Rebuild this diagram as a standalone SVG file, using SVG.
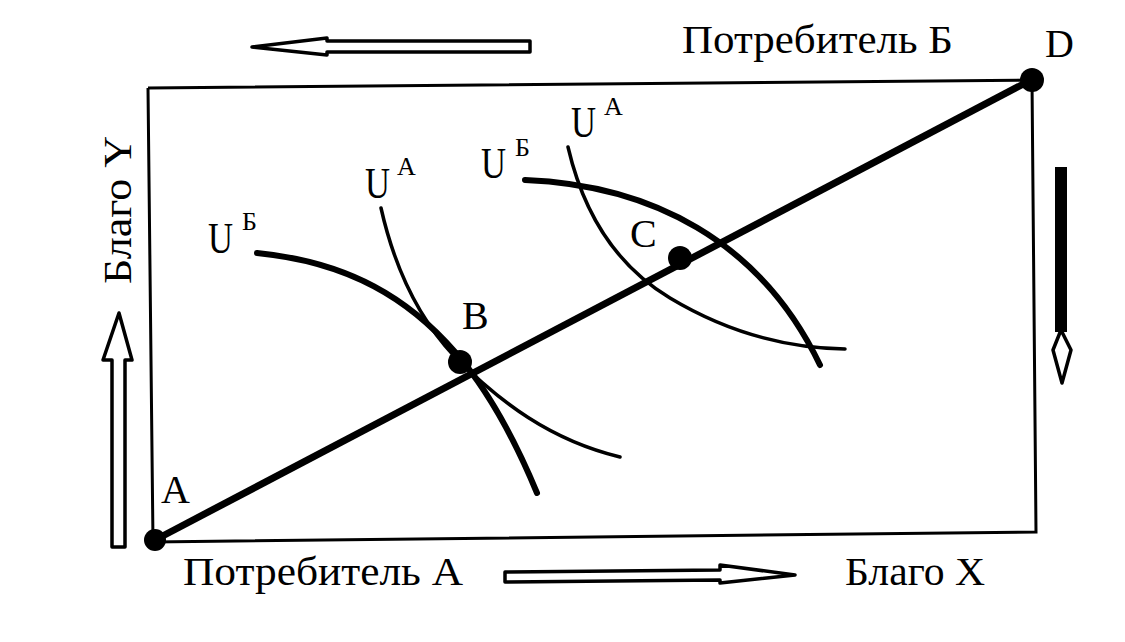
<svg xmlns="http://www.w3.org/2000/svg" width="1125" height="642" viewBox="0 0 1125 642">
<style>
text{font-family:"Liberation Serif","Times New Roman",serif;fill:#000}
.lbl{font-size:40px}
.u{font-size:44px}
.sup{font-size:26px}
.frame{fill:none;stroke:#000;stroke-width:3}
.thick{fill:none;stroke:#000;stroke-width:6;stroke-linecap:round}
.thin{fill:none;stroke:#000;stroke-width:3.5;stroke-linecap:round}
.arr{fill:#fff;stroke:#000;stroke-width:3.5;stroke-linejoin:round}
.dot{fill:#000}
</style>
<rect width="1125" height="642" fill="#fff"/>
<g id="frame">
<polyline class="frame" points="148,88 1032,80 1036,532 153,542 148,88"/>
</g>
<g id="connectors">
<line x1="155" y1="540" x2="1031" y2="80" stroke="#000" stroke-width="7"/>
<path class="thick" d="M257,253 C350,262 410,300 455,352 C490,392 515,440 537,493"/>
<path class="thin" d="M381,208 C395,270 420,320 455,357 C500,402 550,440 620,457"/>
<path class="thick" d="M525,180 C650,185 760,240 820,365"/>
<path class="thin" d="M568,147 C585,220 620,268 670,298 C720,328 780,348 845,349"/>
</g>
<g id="node-A"><circle class="dot" cx="155" cy="540" r="11"/><text class="lbl" x="161" y="503">A</text></g>
<g id="node-B"><circle class="dot" cx="460" cy="362" r="12"/><text class="lbl" x="462" y="329">B</text></g>
<g id="node-C"><circle class="dot" cx="680" cy="258" r="12"/><text class="lbl" x="630" y="247">C</text></g>
<g id="node-D"><circle class="dot" cx="1032" cy="80" r="12"/><text class="lbl" x="1045" y="57">D</text></g>
<g id="label-UB1"><text class="u" x="208" y="253" textLength="25" lengthAdjust="spacingAndGlyphs">U</text><text class="sup" x="242" y="230">Б</text></g>
<g id="label-UA1"><text class="u" x="365" y="198" textLength="25" lengthAdjust="spacingAndGlyphs">U</text><text class="sup" x="397" y="175">A</text></g>
<g id="label-UB2"><text class="u" x="481" y="178" textLength="25" lengthAdjust="spacingAndGlyphs">U</text><text class="sup" x="515" y="156">Б</text></g>
<g id="label-UA2"><text class="u" x="571" y="137" textLength="25" lengthAdjust="spacingAndGlyphs">U</text><text class="sup" x="604" y="115">A</text></g>
<g id="label-consumerB"><text class="lbl" x="682" y="53" textLength="271" lengthAdjust="spacingAndGlyphs">Потребитель Б</text></g>
<g id="label-consumerA"><text class="lbl" x="183" y="585" textLength="280" lengthAdjust="spacingAndGlyphs">Потребитель А</text></g>
<g id="label-goodX"><text class="lbl" x="845" y="585" textLength="140" lengthAdjust="spacingAndGlyphs">Благо X</text></g>
<g id="label-goodY"><text class="lbl" transform="translate(131,210) rotate(-90)" text-anchor="middle" textLength="148" lengthAdjust="spacingAndGlyphs">Благо Y</text></g>
<g id="arrows">
<polygon class="arr" points="252,47 327,38 327,41 530,41 530,52 327,52 327,55"/>
<polygon class="arr" points="505,572 720,570 720,565 795,575 720,583 720,580 505,582"/>
<polygon class="arr" points="119,313 132,360 125,360 125,547 112,547 112,360 103,360"/>
<rect x="1055" y="167" width="12" height="165" fill="#000"/>
<polygon class="arr" points="1061,330 1071,350 1062,383 1053,350"/>
</g>
</svg>
